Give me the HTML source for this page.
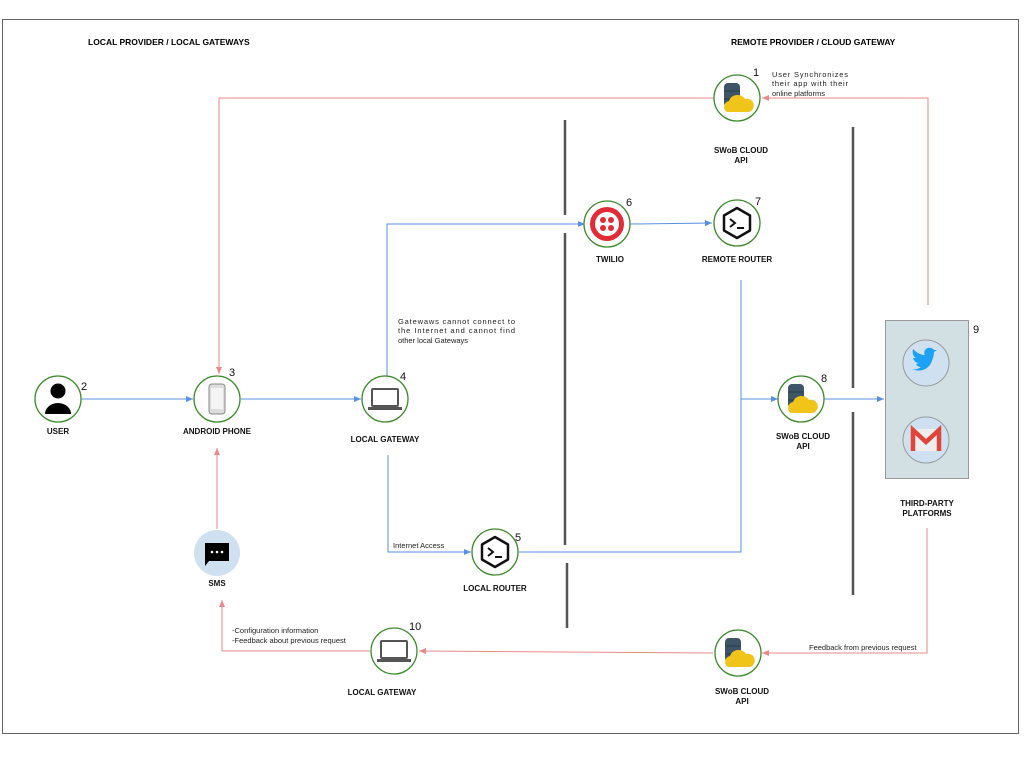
<!DOCTYPE html>
<html><head><meta charset="utf-8"><style>
html,body{margin:0;padding:0;background:#fff;}
svg{display:block;font-family:"Liberation Sans",Arial,sans-serif;}
.b{font-weight:bold;font-size:8px;fill:#111;text-anchor:middle;}
.n{font-size:11px;fill:#111;}
.s{font-size:7.5px;fill:#222;}
.c{fill:#fff;stroke:#3a8a2a;stroke-width:1.3;}
.red{stroke:#e88a8a;stroke-width:1;fill:none;}
.blue{stroke:#5a8fe0;stroke-width:1;fill:none;}
.bar{stroke:#555;stroke-width:2.5;}
</style></head><body>
<svg width="1024" height="768" viewBox="0 0 1024 768">
<defs>
<marker id="ar" markerWidth="8" markerHeight="8" refX="7" refY="4" orient="auto" markerUnits="userSpaceOnUse"><path d="M0,1 L7,4 L0,7 Z" fill="#e88a8a"/></marker>
<marker id="ab" markerWidth="8" markerHeight="8" refX="7" refY="4" orient="auto" markerUnits="userSpaceOnUse"><path d="M0,1 L7,4 L0,7 Z" fill="#5a8fe0"/></marker>
<g id="swob"><rect x="-13" y="-15" width="16" height="24" rx="4" fill="#3d5566"/><line x1="-13" y1="-7" x2="3" y2="-7" stroke="#2a3d4a"/><line x1="-13" y1="1" x2="3" y2="1" stroke="#2a3d4a"/><path d="M-10,14 a6,6 0 0 1 2,-11 a9,9 0 0 1 16,-2 a6,6 0 0 1 4,13 Z" fill="#f0c419"/></g>
<g id="laptop"><rect x="-13" y="-10" width="26" height="17" rx="1" fill="none" stroke="#555" stroke-width="2"/><rect x="-17" y="8" width="34" height="3" fill="#555"/></g>
<g id="router"><path d="M0,-15 L13,-7.5 L13,7.5 L0,15 L-13,7.5 L-13,-7.5 Z" fill="none" stroke="#111" stroke-width="2.5" stroke-linejoin="round"/><path d="M-7,-4 L-2,0 L-7,4" fill="none" stroke="#111" stroke-width="2"/><line x1="0" y1="5" x2="7" y2="5" stroke="#111" stroke-width="2"/></g>
</defs>
<rect x="2.5" y="19.5" width="1016" height="714" fill="none" stroke="#666" stroke-width="1"/>
<text x="88" y="45" style="font-size:8.5px;font-weight:bold">LOCAL PROVIDER / LOCAL GATEWAYS</text>
<text x="731" y="45" style="font-size:8.5px;font-weight:bold">REMOTE PROVIDER / CLOUD GATEWAY</text>

<!-- bars -->
<line class="bar" x1="565" y1="120" x2="565" y2="215"/>
<line class="bar" x1="565" y1="233" x2="565" y2="545"/>
<line class="bar" x1="567" y1="563" x2="567" y2="628"/>
<line class="bar" x1="853" y1="127" x2="853" y2="388"/>
<line class="bar" x1="853" y1="412" x2="853" y2="595"/>

<!-- red lines -->
<polyline class="red" points="928,305 928,98 762,98" marker-end="url(#ar)"/>
<polyline class="red" points="714,98 219,98 219,374" marker-end="url(#ar)"/>
<line class="red" x1="217" y1="529" x2="217" y2="448" marker-end="url(#ar)"/>
<polyline class="red" points="927,528 927,653 762,653" marker-end="url(#ar)"/>
<line class="red" x1="713" y1="653" x2="419" y2="651" marker-end="url(#ar)"/>
<polyline class="red" points="370,651 222,651 222,600" marker-end="url(#ar)"/>

<!-- blue lines -->
<line class="blue" x1="81" y1="399" x2="193" y2="399" marker-end="url(#ab)"/>
<line class="blue" x1="241" y1="399" x2="361" y2="399" marker-end="url(#ab)"/>
<polyline class="blue" points="387,376 387,224 585,224" marker-end="url(#ab)"/>
<line class="blue" x1="630" y1="224" x2="712" y2="223" marker-end="url(#ab)"/>
<polyline class="blue" points="388,455 388,552 471,552" marker-end="url(#ab)"/>
<polyline class="blue" points="519,552 741,552 741,280"/>
<line class="blue" x1="741" y1="399" x2="778" y2="399" marker-end="url(#ab)"/>
<line class="blue" x1="824" y1="399" x2="884" y2="399" marker-end="url(#ab)"/>

<!-- nodes -->
<circle class="c" cx="58" cy="399" r="23"/>
<circle cx="58" cy="391" r="7.5" fill="#000"/><path d="M45,414 a13,11 0 0 1 26,0 Z" fill="#000"/>
<text class="n" x="81" y="390">2</text><text class="b" x="58" y="434">USER</text>

<circle class="c" cx="217" cy="399" r="23"/>
<rect x="209" y="384" width="16" height="30" rx="3" fill="#ddd" stroke="#888"/><rect x="211" y="388" width="12" height="21" fill="#f4f4f4"/>
<text class="n" x="229" y="376">3</text><text class="b" x="217" y="434">ANDROID PHONE</text>

<circle class="c" cx="385" cy="399" r="23"/><use href="#laptop" x="385" y="399"/>
<text class="n" x="400" y="380">4</text><text class="b" x="385" y="442">LOCAL GATEWAY</text>
<text class="s" x="398" y="324" textLength="117">Gatewaws cannot connect to</text>
<text class="s" x="398" y="333" textLength="117">the Internet and cannot find</text>
<text class="s" x="398" y="343">other local Gateways</text>

<circle class="c" cx="495" cy="552" r="23"/><use href="#router" x="495" y="552"/>
<text class="n" x="515" y="541">5</text><text class="b" x="495" y="591">LOCAL ROUTER</text>
<text class="s" x="393" y="548">Internet Access</text>

<circle cx="217" cy="553" r="23" fill="#cfe0f1"/>
<path d="M205,543 h24 v18 h-20 l-4,5 Z" fill="#000"/><circle cx="212" cy="552" r="1.3" fill="#fff"/><circle cx="217" cy="552" r="1.3" fill="#fff"/><circle cx="222" cy="552" r="1.3" fill="#fff"/>
<text class="b" x="217" y="586">SMS</text>

<circle class="c" cx="394" cy="651" r="23"/><use href="#laptop" x="394" y="651"/>
<text class="n" x="409" y="630">10</text><text class="b" x="382" y="695">LOCAL GATEWAY</text>
<text class="s" x="232" y="633">-Configuration information</text>
<text class="s" x="232" y="643">-Feedback about previous request</text>

<circle class="c" cx="607" cy="224" r="23"/>
<circle cx="607" cy="224" r="17" fill="#e12b36"/><circle cx="607" cy="224" r="12" fill="#fff"/>
<circle cx="603" cy="220" r="3" fill="#e12b36"/><circle cx="611" cy="220" r="3" fill="#e12b36"/><circle cx="603" cy="228" r="3" fill="#e12b36"/><circle cx="611" cy="228" r="3" fill="#e12b36"/>
<text class="n" x="626" y="206">6</text><text class="b" x="610" y="262">TWILIO</text>

<circle class="c" cx="737" cy="223" r="23"/><use href="#router" x="737" y="223"/>
<text class="n" x="755" y="205">7</text><text class="b" x="737" y="262">REMOTE ROUTER</text>

<circle class="c" cx="737" cy="98" r="23"/><use href="#swob" x="737" y="98"/>
<text class="n" x="753" y="76">1</text><text class="b" x="741" y="153">SWoB CLOUD</text><text class="b" x="741" y="163">API</text>
<text class="s" x="772" y="77" textLength="76">User    Synchronizes</text>
<text class="s" x="772" y="86" textLength="76">their app with their</text>
<text class="s" x="772" y="96">online platforms</text>

<circle class="c" cx="801" cy="399" r="23"/><use href="#swob" x="801" y="399"/>
<text class="n" x="821" y="382">8</text><text class="b" x="803" y="439">SWoB CLOUD</text><text class="b" x="803" y="449">API</text>

<circle class="c" cx="738" cy="653" r="23"/><use href="#swob" x="738" y="653"/>
<text class="b" x="742" y="694">SWoB CLOUD</text><text class="b" x="742" y="704">API</text>
<text class="s" x="809" y="650">Feedback from previous request</text>

<rect x="885.5" y="320.5" width="83" height="158" fill="#d2e0e4" stroke="#999"/>
<text class="n" x="973" y="333">9</text>
<circle cx="926" cy="363" r="23" fill="#cfe0f1" stroke="#999"/>
<path d="M912,369 c6,3 15,2 19,-6 c2,-4 3,-8 3,-11 l3,-2 l-3,0 c-2,-3 -7,-3 -9,0 c-1,2 -1,4 0,5 c-5,0 -9,-3 -12,-6 c-1,4 0,7 3,9 l-3,0 c1,3 3,5 6,5 l-3,1 c1,2 3,3 5,3 c-3,2 -6,3 -9,2 Z" fill="#1da1f2"/>
<circle cx="926" cy="440" r="23" fill="#cfe0f1" stroke="#999"/>
<rect x="913" y="429" width="26" height="22" fill="#eee"/>
<path d="M913,451 V430 L926,442 L939,430 V451" fill="none" stroke="#e0443a" stroke-width="4.5" stroke-linejoin="miter"/>
<text class="b" x="927" y="506">THIRD-PARTY</text><text class="b" x="927" y="516">PLATFORMS</text>
</svg>
</body></html>
